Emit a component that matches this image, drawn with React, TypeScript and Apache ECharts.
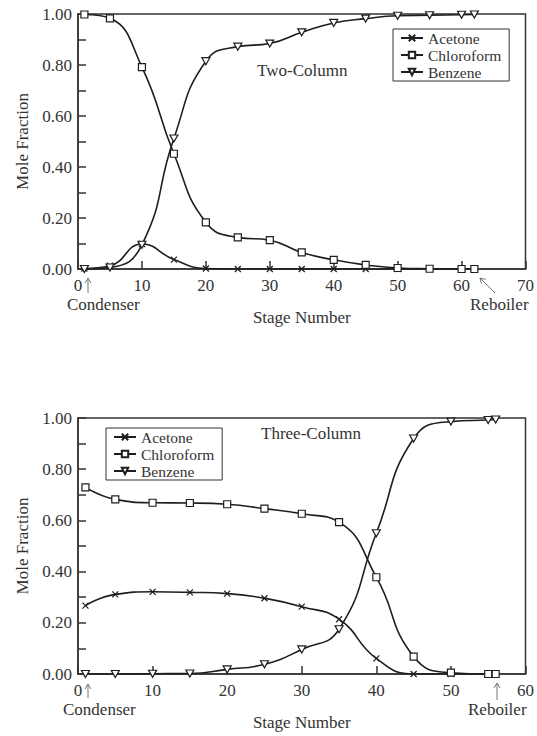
import React, { useEffect, useRef } from "react";
import * as echarts from "echarts";

// ---- Data: Two-Column ----
const twoStages = [1, 5, 10, 15, 20, 25, 30, 35, 40, 45, 50, 55, 60, 62];
const twoAcetone = [0.002, 0.013, 0.098, 0.037, 0.002, 0.0, 0.0, 0.0, 0.0, 0.0, 0.0, 0.0, 0.0, 0.0];
const twoChloroform = [0.998, 0.983, 0.792, 0.452, 0.183, 0.124, 0.113, 0.065, 0.036, 0.016, 0.004, 0.001, 0.0, 0.0];
const twoBenzene = [0.0, 0.006, 0.095, 0.512, 0.815, 0.872, 0.884, 0.928, 0.965, 0.982, 0.993, 0.995, 0.997, 0.998];

// ---- Data: Three-Column ----
const threeStages = [1, 5, 10, 15, 20, 25, 30, 35, 40, 45, 50, 55, 56];
const threeAcetone = [0.267, 0.311, 0.321, 0.319, 0.314, 0.296, 0.263, 0.214, 0.061, 0.0, 0.0, 0.0, 0.0];
const threeChloroform = [0.729, 0.682, 0.669, 0.668, 0.663, 0.646, 0.626, 0.593, 0.378, 0.068, 0.005, 0.0, 0.0];
const threeBenzene = [0.0, 0.0, 0.001, 0.002, 0.018, 0.038, 0.096, 0.175, 0.55, 0.92, 0.986, 0.992, 0.994];

const seriesNames = ["Acetone", "Chloroform", "Benzene"];
const yTicks = [0, 0.2, 0.4, 0.6, 0.8, 1.0];

const FONT = '"Liberation Serif", "Times New Roman", serif';
const INK = "#333333";
const LINE = "#1e1e1e";

const SYM_X = "path://M0,0L10,10M10,0L0,10";
const SYM_TRI = "path://M0,0L10,0L5,9Z";

function pairs(xs: number[], ys: number[]) {
  return xs.map((x, i) => [x, ys[i]]);
}

function makeX(gridIndex: number, max: number) {
  return {
    type: "value",
    gridIndex,
    min: 0,
    max,
    interval: 10,
    name: "Stage Number",
    nameLocation: "middle",
    nameGap: 40,
    nameTextStyle: { fontFamily: FONT, fontSize: 17, color: INK },
    axisLine: { show: true, onZero: false, lineStyle: { color: INK, width: 1.5 } },
    axisTick: { show: true, inside: true, length: 8, lineStyle: { color: INK, width: 1.5 } },
    axisLabel: { color: INK, fontFamily: FONT, fontSize: 17, margin: 8 },
    splitLine: { show: false },
  };
}

function makeY(gridIndex: number) {
  return {
    type: "value",
    gridIndex,
    min: yTicks[0],
    max: yTicks[yTicks.length - 1],
    interval: 0.2,
    name: "Mole Fraction",
    nameLocation: "middle",
    nameGap: 45,
    nameTextStyle: { fontFamily: FONT, fontSize: 17, color: INK },
    axisLine: { show: true, lineStyle: { color: INK, width: 1.5 } },
    axisTick: { show: true, inside: true, length: 8, lineStyle: { color: INK, width: 1.5 } },
    minorTick: { show: true, splitNumber: 2, length: 8, lineStyle: { color: INK, width: 1.5 } },
    axisLabel: {
      color: INK,
      fontFamily: FONT,
      fontSize: 17,
      margin: 6,
      formatter: (v: number) => v.toFixed(2),
    },
    splitLine: { show: false },
  };
}

function makeSeries(idx: number, name: string, stages: number[], vals: number[]) {
  const sym = name === "Acetone" ? SYM_X : name === "Chloroform" ? "rect" : SYM_TRI;
  const size = name === "Acetone" ? 6 : name === "Chloroform" ? 7 : [8, 7];
  return {
    type: "line",
    name,
    xAxisIndex: idx,
    yAxisIndex: idx,
    data: pairs(stages, vals),
    smooth: 0.5,
    symbol: sym,
    symbolSize: size,
    showSymbol: true,
    showAllSymbol: true,
    lineStyle: { color: LINE, width: 1.6 },
    itemStyle: { color: "#ffffff", borderColor: LINE, borderWidth: 1.2 },
    emphasis: { disabled: true },
  };
}

function legend(left: number, top: number) {
  return {
    left,
    top,
    orient: "vertical",
    itemWidth: 22,
    itemHeight: 8,
    itemGap: 1,
    padding: [1, 8, 1, 7],
    borderColor: INK,
    borderWidth: 1,
    backgroundColor: "#ffffff",
    textStyle: { fontFamily: FONT, fontSize: 15.5, color: INK },
    data: seriesNames,
  };
}

function txt(x: number, y: number, text: string) {
  return {
    type: "text",
    x,
    y,
    style: { text, fontFamily: FONT, fontSize: 17, fill: INK, align: "left", verticalAlign: "middle" },
  };
}

function arrow(x1: number, y1: number, x2: number, y2: number) {
  // arrow from (x2,y2) tail to head (x1,y1)
  const dx = x1 - x2;
  const dy = y1 - y2;
  const len = Math.sqrt(dx * dx + dy * dy);
  const ux = dx / len;
  const uy = dy / len;
  const hl = 5;
  const hw = 3;
  const bx = x1 - ux * hl;
  const by = y1 - uy * hl;
  return [
    { type: "line", shape: { x1: x2, y1: y2, x2: x1, y2: y1 }, style: { stroke: "#777", lineWidth: 1 } },
    {
      type: "polyline",
      shape: { points: [[bx - uy * hw, by + ux * hw], [x1, y1], [bx + uy * hw, by - ux * hw]] },
      style: { stroke: "#777", lineWidth: 1, fill: "none" },
    },
  ];
}

export default function App() {
  const ref = useRef<HTMLDivElement>(null);
  useEffect(() => {
    const chart = echarts.init(ref.current!, null, { renderer: "svg" });
    const option = {
      animation: false,
      backgroundColor: "#ffffff",
      grid: [
        { left: 78, top: 14, width: 448, height: 255, show: true, borderColor: INK, borderWidth: 1.5, backgroundColor: "transparent" },
        { left: 78, top: 418, width: 448, height: 256, show: true, borderColor: INK, borderWidth: 1.5, backgroundColor: "transparent" },
      ],
      xAxis: [makeX(0, 70), makeX(1, 60)],
      yAxis: [makeY(0), makeY(1)],
      legend: [legend(393, 29), legend(106, 428)],
      series: [
        makeSeries(0, "Acetone", twoStages, twoAcetone),
        makeSeries(0, "Chloroform", twoStages, twoChloroform),
        makeSeries(0, "Benzene", twoStages, twoBenzene),
        makeSeries(1, "Acetone", threeStages, threeAcetone),
        makeSeries(1, "Chloroform", threeStages, threeChloroform),
        makeSeries(1, "Benzene", threeStages, threeBenzene),
      ],
      graphic: [
        txt(257, 70, "Two-Column"),
        txt(261, 433, "Three-Column"),
        txt(67, 304, "Condenser"),
        txt(470, 304, "Reboiler"),
        txt(63, 709, "Condenser"),
        txt(468, 709, "Reboiler"),
        ...arrow(88, 278, 88, 293),
        ...arrow(480, 278, 495, 293),
        ...arrow(88, 684, 88, 698),
        ...arrow(497, 683, 497, 700),
      ],
    };
    chart.setOption(option as any);
    return () => chart.dispose();
  }, []);
  return <div ref={ref} style={{ position: "fixed", left: 0, top: 0, width: 537, height: 736 }} />;
}
